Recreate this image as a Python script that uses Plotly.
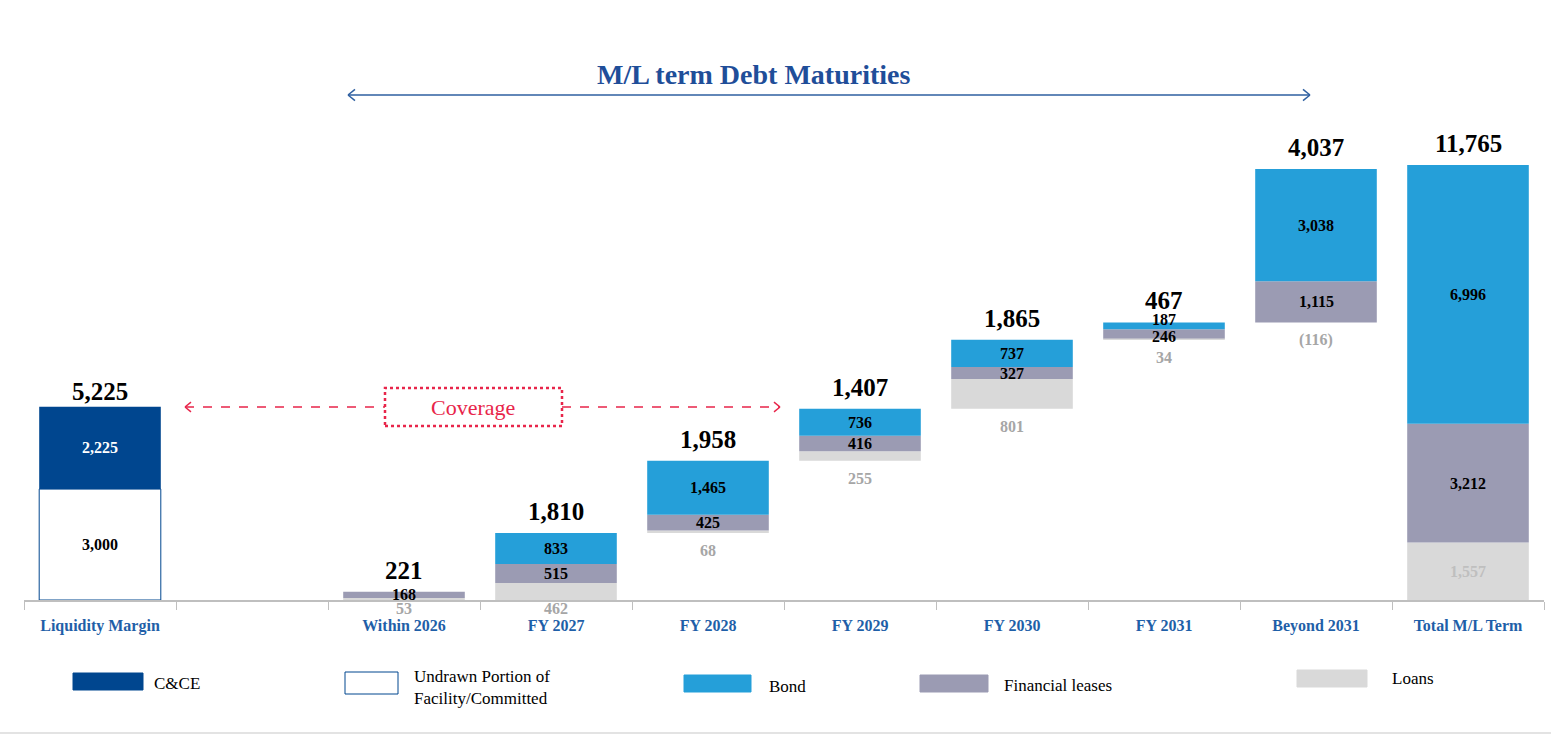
import plotly.graph_objects as go

# x slots (one empty slot after the liquidity column)
slots = ["Liquidity Margin", "", "Within 2026", "FY 2027", "FY 2028", "FY 2029",
         "FY 2030", "FY 2031", "Beyond 2031", "Total M/L Term"]

# liquidity margin
cce = 2225
undrawn = 3000

# M/L term maturities
maturities = ["Within 2026", "FY 2027", "FY 2028", "FY 2029", "FY 2030", "FY 2031", "Beyond 2031"]
loans = [53, 462, 68, 255, 801, 34, -116]
leases = [168, 515, 425, 416, 327, 246, 1115]
bonds = [0, 833, 1465, 736, 737, 187, 3038]

C_CCE = "#00468F"
C_BOND = "#259FD9"
C_LEASE = "#9B9BB3"
C_LOAN = "#D9D9D9"
C_AXIS_TXT = "#1F5FA8"
C_RED = "#E8254A"
FONT = "Liberation Serif"

totals = [l + f + b for l, f, b in zip(loans, leases, bonds)]

# floating bars: within 2026 sits on the axis, the rest run on from FY 2027
starts = [0]
run = 0
for t in totals[1:]:
    starts.append(run)
    run += t

# total column
tot_loans, tot_leases, tot_bonds = sum(loans), sum(leases), sum(bonds)

xs = [slots.index(m) for m in maturities]
x_tot = slots.index("Total M/L Term")
x_liq = slots.index("Liquidity Margin")

loan_len = [max(v, 0) for v in loans] + [tot_loans]
loan_base = starts + [0]
lease_len = leases + [tot_leases]
lease_base = [b + l for b, l in zip(loan_base, loan_len)]
bond_len = bonds + [tot_bonds]
bond_base = [b + l for b, l in zip(lease_base, lease_len)]
all_x = xs + [x_tot]

fig = go.Figure()
W = 0.8
fig.add_trace(go.Bar(x=[x_liq], y=[undrawn], base=[0], width=W,
                     marker=dict(color="white", line=dict(color=C_CCE, width=1))))
fig.add_trace(go.Bar(x=[x_liq], y=[cce], base=[undrawn], width=W,
                     marker=dict(color=C_CCE, line=dict(width=0))))
fig.add_trace(go.Bar(x=all_x, y=loan_len, base=loan_base, width=W,
                     marker=dict(color=C_LOAN, line=dict(width=0))))
fig.add_trace(go.Bar(x=all_x, y=lease_len, base=lease_base, width=W,
                     marker=dict(color=C_LEASE, line=dict(width=0))))
fig.add_trace(go.Bar(x=all_x, y=bond_len, base=bond_base, width=W,
                     marker=dict(color=C_BOND, line=dict(width=0))))

ann = []
SEG = 16   # segment label size
TOT = 25   # total label size


def label(x, y, text, color="black", size=SEG, yanchor="middle", yshift=0):
    ann.append(dict(x=x, y=y, xref="x", yref="y", text=f"<b>{text}</b>",
                    showarrow=False, xanchor="center", yanchor=yanchor, yshift=yshift,
                    font=dict(family=FONT, size=size, color=color)))


def fmt(v):
    return f"({abs(v):,})" if v < 0 else f"{v:,}"


# liquidity labels
label(x_liq, undrawn / 2, fmt(undrawn))
label(x_liq, undrawn + cce / 2, fmt(cce), color="white")
label(x_liq, undrawn + cce, fmt(undrawn + cce), size=TOT, yanchor="bottom", yshift=0)

# small nudges where labels crowd each other
nudge = {("FY 2031", "bond"): 6, ("FY 2031", "lease"): -3,
         ("Within 2026", "loan"): 9, ("FY 2027", "loan"): 9}

for i, m in enumerate(maturities):
    x = xs[i]
    label(x, lease_base[i] + lease_len[i] / 2, fmt(leases[i]), yshift=nudge.get((m, "lease"), 0))
    if bonds[i]:
        label(x, bond_base[i] + bond_len[i] / 2, fmt(bonds[i]), yshift=nudge.get((m, "bond"), 0))
    label(x, starts[i], fmt(loans[i]), color="#A6A6A6", yanchor="top",
          yshift=-7 + nudge.get((m, "loan"), 0))
    label(x, bond_base[i] + bond_len[i], fmt(totals[i]), size=TOT, yanchor="bottom", yshift=6)

label(x_tot, tot_loans / 2, fmt(tot_loans), color="#BFBFBF")
label(x_tot, tot_loans + tot_leases / 2, fmt(tot_leases))
label(x_tot, tot_loans + tot_leases + tot_bonds / 2, fmt(tot_bonds))
label(x_tot, tot_loans + tot_leases + tot_bonds, fmt(tot_loans + tot_leases + tot_bonds),
      size=TOT, yanchor="bottom", yshift=6)

# pixel -> paper helpers (plot area 24..1544 x 40..600)
L, R, T, B = 24, 7, 40, 135
PW, PH = 1551 - L - R, 735 - T - B


def px(v):
    return (v - L) / PW


def py(v):
    return (735 - B - v) / PH


shapes = []


def seg(x0, y0, x1, y1, color, width=1.5, dash="solid"):
    shapes.append(dict(type="line", xref="paper", yref="paper", x0=px(x0), y0=py(y0),
                       x1=px(x1), y1=py(y1), line=dict(color=color, width=width, dash=dash)))


def chevron(x, y, direction, color, size=7):
    d = -direction
    seg(x, y, x + d * size, y - size * 0.8, color)
    seg(x, y, x + d * size, y + size * 0.8, color)


def text_at(x, y, text, size, color, xanchor="center"):
    ann.append(dict(x=px(x), y=py(y), xref="paper", yref="paper", showarrow=False,
                    xanchor=xanchor, yanchor="middle", align="left", text=text,
                    font=dict(family=FONT, size=size, color=color)))


# title arrow
seg(348, 95, 1310, 95, "#2E5FA0", 1.5)
chevron(348, 95, -1, "#2E5FA0")
chevron(1310, 95, 1, "#2E5FA0")
text_at(753, 74, "<b>M/L term Debt Maturities</b>", 28, "#1F4E99")

# coverage box + arrows
shapes.append(dict(type="rect", xref="paper", yref="paper", x0=px(385), x1=px(562),
                   y0=py(426), y1=py(388), line=dict(color=C_RED, width=2.5, dash="dot")))
seg(185, 407, 385, 407, C_RED, 1.3, "dash")
seg(562, 407, 780, 407, C_RED, 1.3, "dash")
chevron(185, 407, -1, C_RED, 6)
chevron(780, 407, 1, C_RED, 6)
text_at(473, 407, "Coverage", 22, C_RED)

# legend built by hand
legend_items = [
    ("C&CE", C_CCE, C_CCE, 73, 143, 673, 690, 152, 683),
    ("Undrawn Portion of<br>Facility/Committed", "white", C_CCE, 345, 398, 672, 694, 412, 687),
    ("Bond", C_BOND, C_BOND, 684, 751, 675, 692, 767, 686),
    ("Financial leases", C_LEASE, C_LEASE, 920, 988, 675, 692, 1002, 685),
    ("Loans", C_LOAN, C_LOAN, 1297, 1367, 670, 687, 1390, 678),
]
for text, fill, edge, x0, x1, y0, y1, tx, ty in legend_items:
    shapes.append(dict(type="rect", xref="paper", yref="paper", x0=px(x0), x1=px(x1),
                       y0=py(y1), y1=py(y0), fillcolor=fill, line=dict(color=edge, width=1)))
    text_at(tx, ty, text, 17, "black", xanchor="left")

# bottom border
seg(0, 733, 1551, 733, "#E3E3E3", 2)

fig.update_layout(
    width=1551, height=735,
    margin=dict(l=L, r=R, t=T, b=B),
    plot_bgcolor="white", paper_bgcolor="white",
    barmode="overlay", bargap=0.2, showlegend=False,
    annotations=ann, shapes=shapes,
    xaxis=dict(range=[-0.5, len(slots) - 0.5], tickvals=list(range(len(slots))),
               ticktext=[f"<b>{s}</b>" for s in slots], ticks="", showgrid=False,
               zeroline=False, showline=True, linecolor="#BFBFBF", linewidth=1.5,
               tickfont=dict(family=FONT, size=16, color=C_AXIS_TXT), ticklabelstandoff=10,
               minor=dict(tickvals=[i - 0.5 for i in range(len(slots) + 1)], ticks="outside",
                          ticklen=8, tickcolor="#BFBFBF", tickwidth=1, showgrid=False)),
    yaxis=dict(range=[0, 15146], visible=False, showgrid=False, zeroline=False),
)

fig.write_html("out.html", config={"displayModeBar": False},
               post_script="document.body.style.margin='0';")
